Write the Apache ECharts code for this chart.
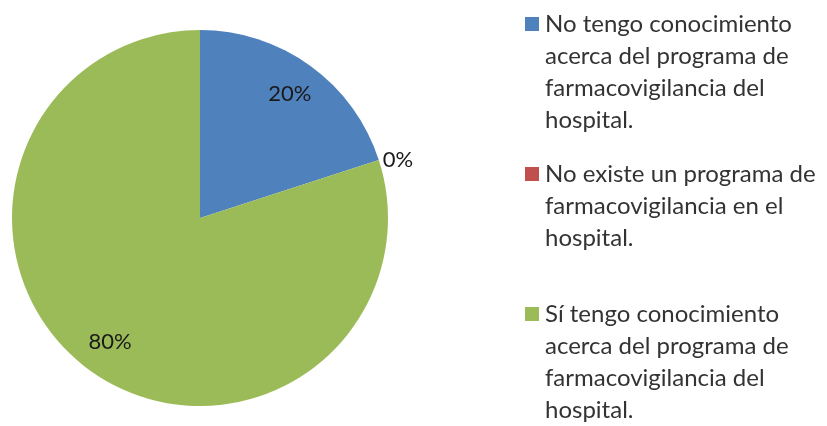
<!DOCTYPE html>
<html><head><meta charset="utf-8">
<script src="https://cdn.jsdelivr.net/npm/echarts@6/dist/echarts.min.js"></script>
<style>html,body{margin:0;padding:0;background:#fff}#c{width:827px;height:426px}</style>
</head><body><div id="c"></div>
<script>
const categories = [
  "No tengo conocimiento acerca del programa de farmacovigilancia del hospital.",
  "No existe un programa de farmacovigilancia en el hospital.",
  "Sí tengo conocimiento acerca del programa de farmacovigilancia del hospital."
];
const legendLines = [
  ["No tengo conocimiento", "acerca del programa de", "farmacovigilancia del", "hospital."],
  ["No existe un programa de", "farmacovigilancia en el", "hospital."],
  ["Sí tengo conocimiento", "acerca del programa de", "farmacovigilancia del", "hospital."]
];
const values = [20, 0, 80];
const colors = ["#4F81BD", "#C0504D", "#9BBB59"];

const LH = 32;
const legendTops = [8, 158, 298];
const font = "Lato";

const chart = echarts.init(document.getElementById('c'), null, {renderer: 'canvas'});
const data = categories.map((c, i) => ({name: c, value: values[i], itemStyle: {color: colors[i]}}));
const labelData = categories.map((c, i) => ({
  name: c, value: values[i],
  itemStyle: {color: 'rgba(0,0,0,0)'},
  label: values[i] === 0 ? {position: 'outside', distanceToLabelLine: 4} : {position: 'inside'}
}));

const legends = categories.map((c, i) => ({
  data: [c],
  orient: 'vertical',
  left: 520,
  top: legendTops[i],
  padding: 0,
  itemWidth: 0, itemHeight: 14,
  icon: 'none',
  selectedMode: false,
  formatter: () => legendLines[i].map((l, k) => k === 0 ? '{sq|}{t|' + l + '}' : '{r|' + l + '}').join('\n'),
  textStyle: {
    fontFamily: font, fontSize: 24, lineHeight: LH, color: '#333',
    rich: {
      sq: {width: 14, height: 14, backgroundColor: colors[i]},
      t: {fontFamily: font, fontSize: 24, lineHeight: LH, color: '#333', padding: [0, 0, 0, 6]},
      r: {fontFamily: font, fontSize: 24, lineHeight: LH, color: '#333', padding: [0, 0, 0, 20]}
    }
  }
}));

chart.setOption({
  animation: false,
  backgroundColor: '#fff',
  legend: legends,
  series: [
    {
      type: 'pie', center: [200, 218], radius: 188,
      startAngle: 90, clockwise: true, silent: true,
      label: {show: false}, labelLine: {show: false},
      emphasis: {disabled: true},
      data: data
    },
    {
      type: 'pie', center: [200, 218], radius: [112, 188],
      startAngle: 90, clockwise: true, silent: true,
      avoidLabelOverlap: false,
      percentPrecision: 0,
      label: {show: true, formatter: '{d}%', fontFamily: font, fontSize: 22, color: '#1a1a1a'},
      labelLine: {show: false, length: 0, length2: 0},
      emphasis: {disabled: true},
      data: labelData
    }
  ]
});
</script></body></html>
